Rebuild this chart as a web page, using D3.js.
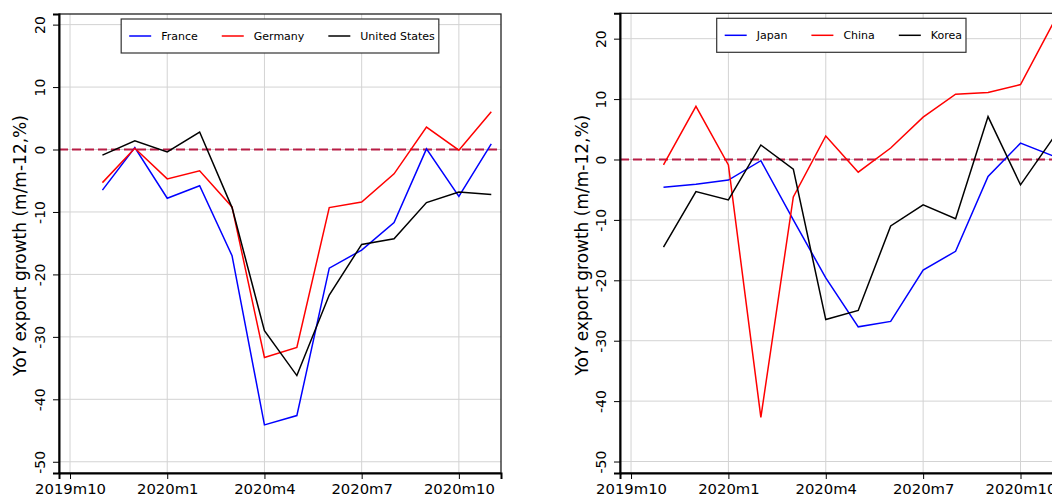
<!DOCTYPE html>
<html lang="en">
<head>
    <meta charset="UTF-8">
    <title>YoY export growth</title>
    <script src="https://d3js.org/d3.v7.min.js"></script>
    <style>
        body { margin: 0; background: #fff; }
        svg { display: block; font-family: "DejaVu Sans", sans-serif; }
    </style>
</head>
<body>
    <div id="my_dataviz"></div>

    <script>
        // months from 2019m11 to 2020m11 (index 1..13, 2019m10 = 0)
        var months = ["2019m11","2019m12","2020m1","2020m2","2020m3","2020m4","2020m5",
                      "2020m6","2020m7","2020m8","2020m9","2020m10","2020m11"];
        var xTickIdx = [0, 3, 6, 9, 12];
        var xTickLabels = ["2019m10","2020m1","2020m4","2020m7","2020m10"];
        var yTicks = [-50, -40, -30, -20, -10, 0, 10, 20];

        // left panel
        var france  = [-6.5, 0.3, -7.8, -5.8, -17.0, -44.1, -42.6, -19.0, -16.1, -11.7, 0.1, -7.5, 0.9];
        var germany = [-5.3, 0.2, -4.7, -3.4, -9.2, -33.3, -31.7, -9.3, -8.4, -3.9, 3.6, -0.1, 6.05];
        var usa     = [-0.9, 1.4, -0.4, 2.8, -9.3, -29.0, -36.2, -23.3, -15.2, -14.3, -8.5, -6.8, -7.2];

        // right panel
        var japan = [-4.6, -4.1, -3.4, -0.2, -10.0, -19.6, -27.7, -26.8, -18.3, -15.2, -2.8, 2.7, 0.6];
        var china = [-0.9, 8.8, -0.9, -42.7, -6.2, 3.9, -2.1, 1.9, 7.0, 10.8, 11.1, 12.4, 22.5];
        var korea = [-14.5, -5.3, -6.7, 2.4, -1.6, -26.5, -25.0, -11.0, -7.5, -9.8, 7.1, -4.2, 3.5];

        var W = 1052, H = 497;
        var font = "DejaVu Sans, sans-serif";
        var svg = d3.select("#my_dataviz")
            .append("svg")
                .attr("width", W)
                .attr("height", H);

        function drawPanel(box, yDomain, series, titleX) {
            var x = d3.scaleLinear().domain([-0.34, 13.3]).range([box.left, box.right]);
            var y = d3.scaleLinear().domain(yDomain).range([box.bottom, box.top]);

            var g = svg.append("g");

            // grid
            g.append("g").selectAll("line")
                .data(xTickIdx).enter().append("line")
                    .attr("x1", function(d){ return x(d); })
                    .attr("x2", function(d){ return x(d); })
                    .attr("y1", box.top).attr("y2", box.bottom)
                    .attr("stroke", "#d3d3d3").attr("stroke-width", 1);
            g.append("g").selectAll("line")
                .data(yTicks).enter().append("line")
                    .attr("y1", function(d){ return y(d); })
                    .attr("y2", function(d){ return y(d); })
                    .attr("x1", box.left).attr("x2", box.right)
                    .attr("stroke", "#d3d3d3").attr("stroke-width", 1);

            // zero line
            g.append("line")
                .attr("x1", box.left).attr("x2", box.right)
                .attr("y1", y(0)).attr("y2", y(0))
                .attr("stroke", "#b81d45").attr("stroke-width", 2)
                .attr("stroke-dasharray", "9,4");

            // series
            var line = d3.line()
                .x(function(d, i){ return x(i + 1); })
                .y(function(d){ return y(d); });
            series.forEach(function(s) {
                g.append("path")
                    .datum(s.values)
                    .attr("fill", "none")
                    .attr("stroke", s.color)
                    .attr("stroke-width", 1.5)
                    .attr("d", line);
            });

            // frame
            g.append("rect")
                .attr("x", box.left).attr("y", box.top)
                .attr("width", box.right - box.left)
                .attr("height", box.bottom - box.top)
                .attr("fill", "none").attr("stroke", "#222").attr("stroke-width", 1.3);

            // axes
            var xAxis = g.append("g")
                .attr("transform", "translate(0," + box.bottom + ")")
                .call(d3.axisBottom(x).tickValues(xTickIdx).tickSize(6)
                        .tickFormat(function(d, i){ return xTickLabels[i]; }));
            xAxis.attr("font-family", font).attr("font-size", 14.8);
            xAxis.select(".domain").attr("stroke-width", 2);
            xAxis.selectAll("text")
                .attr("y", 10)
                .attr("fill", "#000");

            var yAxis = g.append("g")
                .attr("transform", "translate(" + box.left + ",0)")
                .call(d3.axisLeft(y).tickValues(yTicks).tickSize(6)
                        .tickFormat(function(d){ return String(d); }));
            yAxis.attr("font-family", font).attr("font-size", 14);
            yAxis.select(".domain").attr("stroke-width", 2);
            yAxis.selectAll("text")
                .attr("x", null).attr("dy", null)
                .attr("transform", "translate(-14,0) rotate(-90)")
                .attr("text-anchor", "middle")
                .attr("fill", "#000");
            svg.selectAll(".domain").attr("stroke", "#000");

            // y title
            g.append("text")
                .attr("transform", "translate(" + titleX + "," + ((box.top + box.bottom) / 2 + 2) + ") rotate(-90)")
                .attr("text-anchor", "middle")
                .style("font-size", "17px")
                .text("YoY export growth (m/m-12,%)");

            // legend
            var lg = g.append("g");
            var lx = 8, ly = 17;
            series.forEach(function(s) {
                var it = lg.append("g").attr("transform", "translate(" + lx + ",0)");
                it.append("line")
                    .attr("x1", 0).attr("x2", 22)
                    .attr("y1", ly).attr("y2", ly)
                    .attr("stroke", s.color).attr("stroke-width", 1.5);
                var t = it.append("text")
                    .attr("x", 32).attr("y", ly).attr("dy", "0.35em")
                    .style("font-size", "11px")
                    .text(s.name);
                lx += 32 + t.node().getComputedTextLength() + 24;
            });
            var bw = lx - 24 + 4;
            lg.insert("rect", ":first-child")
                .attr("x", 0).attr("y", 0)
                .attr("width", bw).attr("height", 34)
                .attr("fill", "#fff").attr("stroke", "#333").attr("stroke-width", 1.2);
            var cx = (box.left + box.right) / 2;
            lg.attr("transform", "translate(" + (cx - bw / 2) + "," + (box.top + 5) + ")");
        }

        drawPanel({left: 59, right: 501, top: 14, bottom: 473}, [-51.8, 21.7], [
            {name: "France", values: france, color: "#0000ff"},
            {name: "Germany", values: germany, color: "#ff0000"},
            {name: "United States", values: usa, color: "#000000"}
        ], 26);

        drawPanel({left: 620, right: 1062.7, top: 13.3, bottom: 473}, [-51.9, 24.2], [
            {name: "Japan", values: japan, color: "#0000ff"},
            {name: "China", values: china, color: "#ff0000"},
            {name: "Korea", values: korea, color: "#000000"}
        ], 588);
    </script>
</body>
</html>
